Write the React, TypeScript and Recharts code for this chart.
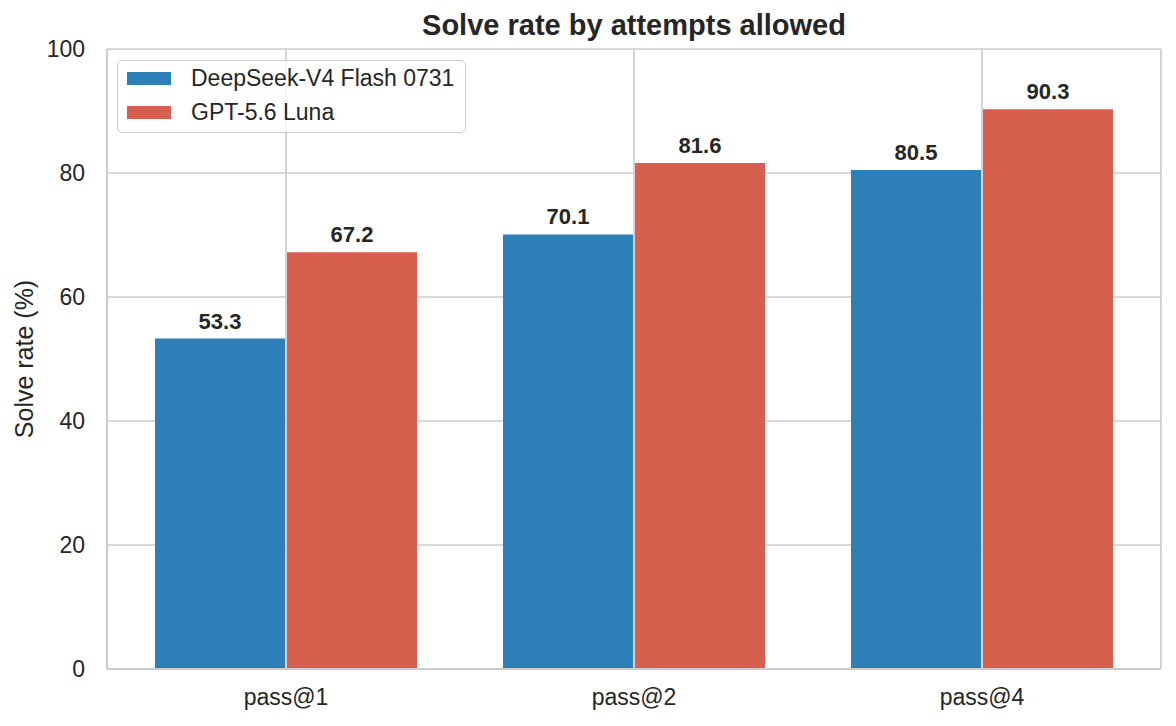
import React from "react";
import {
  BarChart,
  Bar,
  XAxis,
  YAxis,
  CartesianGrid,
  Legend,
  LabelList,
  Customized,
} from "recharts";

const categories = ["pass@1", "pass@2", "pass@4"];
const deepseekRates = [53.3, 70.1, 80.5];
const gptRates = [67.2, 81.6, 90.3];
const yTicks = [0, 20, 40, 60, 80, 100];
const seriesNames = ["DeepSeek-V4 Flash 0731", "GPT-5.6 Luna"];

const FONT = "'Liberation Sans', Arial, sans-serif";
const TEXT = "#262626";
const GRID = "#cccccc";
const BLUE = "#2e7fb8";
const RED = "#d75f4e";

const data = categories.map((name, i) => ({
  name,
  deepseek: deepseekRates[i],
  gpt: gptRates[i],
}));

const LegendBox = ({ payload }: any) => (
  <div
    style={{
      boxSizing: "border-box",
      width: 349,
      height: 73,
      border: `1.3px solid ${GRID}`,
      borderRadius: 5,
      background: "rgba(255,255,255,0.8)",
      paddingTop: 0,
      fontFamily: FONT,
      fontSize: 23,
      color: TEXT,
    }}
  >
    {(payload || []).map((item: any) => (
      <div
        key={item.value}
        style={{ display: "flex", alignItems: "center", height: 34, lineHeight: "34px" }}
      >
        <span
          style={{
            display: "inline-block",
            width: 44,
            height: 13,
            marginLeft: 9,
            marginRight: 20,
            background: item.color,
          }}
        />
        <span>{item.value}</span>
      </div>
    ))}
  </div>
);

// title and y label, placed to match the reference
const Titles = () => (
  <g>
    <text
      x={634}
      y={35}
      textAnchor="middle"
      fontFamily={FONT}
      fontSize={29}
      fontWeight="bold"
      fill={TEXT}
    >
      Solve rate by attempts allowed
    </text>
    <text
      x={33}
      y={359}
      transform="rotate(-90 33 359)"
      textAnchor="middle"
      fontFamily={FONT}
      fontSize={25}
      fill={TEXT}
    >
      Solve rate (%)
    </text>
  </g>
);

export default function App() {
  return (
    <div style={{ position: "absolute", left: 0, top: 0 }}>
      <BarChart
        width={1176}
        height={726}
        data={data}
        margin={{ top: 49, right: 15, bottom: 17, left: 27 }}
        barSize={130}
        barGap={2}
      >
        <CartesianGrid stroke={GRID} strokeWidth={1.7} />
        <XAxis
          dataKey="name"
          height={40}
          padding={{ left: 5, right: 5 }}
          axisLine={{ stroke: GRID, strokeWidth: 2.2 }}
          tickLine={false}
          tickSize={6}
          tickMargin={14}
          tick={{ fontFamily: FONT, fontSize: 23, fill: TEXT }}
        />
        <YAxis
          width={80}
          domain={[0, 100]}
          ticks={yTicks}
          axisLine={{ stroke: GRID, strokeWidth: 2.2 }}
          tickLine={false}
          tickSize={6}
          tickMargin={16}
          tick={{ fontFamily: FONT, fontSize: 23, fill: TEXT }}
        />
        <YAxis
          yAxisId="r"
          orientation="right"
          width={0}
          domain={[0, 100]}
          tick={false}
          tickLine={false}
          axisLine={{ stroke: GRID, strokeWidth: 2.2 }}
        />
        <Legend
          layout="vertical"
          align="center"
          verticalAlign="middle"
          content={<LegendBox />}
          wrapperStyle={{ left: 117, top: 60, width: 349, height: 73 }}
        />
        <Bar dataKey="deepseek" name={seriesNames[0]} fill={BLUE} isAnimationActive={false}>
          <LabelList
            dataKey="deepseek"
            position="top"
            offset={10}
            formatter={(v: any) => Number(v).toFixed(1)}
            style={{ fontFamily: FONT, fontSize: 22, fontWeight: "bold", fill: TEXT }}
          />
        </Bar>
        <Bar dataKey="gpt" name={seriesNames[1]} fill={RED} isAnimationActive={false}>
          <LabelList
            dataKey="gpt"
            position="top"
            offset={10}
            formatter={(v: any) => Number(v).toFixed(1)}
            style={{ fontFamily: FONT, fontSize: 22, fontWeight: "bold", fill: TEXT }}
          />
        </Bar>
        <Customized component={<Titles />} />
      </BarChart>
    </div>
  );
}
